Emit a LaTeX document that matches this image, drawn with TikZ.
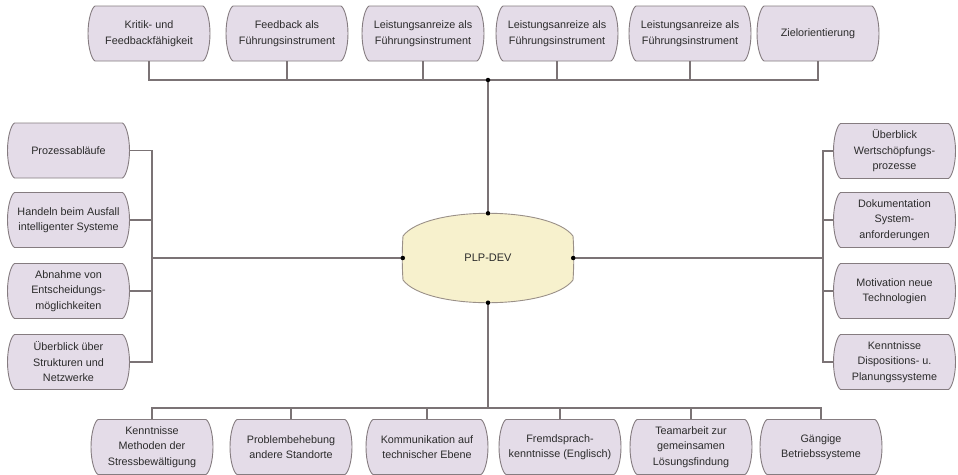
\documentclass[tikz,border=0pt]{standalone}
\usepackage{fontspec}
\setmainfont{Liberation Sans}
\definecolor{boxfill}{HTML}{E4DCE8}
\definecolor{boxline}{HTML}{857C80}
\definecolor{ellfill}{HTML}{F7F1CD}
\definecolor{ellline}{HTML}{9A9088}
\definecolor{conn}{HTML}{7B7375}
\definecolor{txt}{HTML}{2B2B2B}
\tikzset{
 lbl/.style={minimum width=122pt, minimum height=55pt, inner sep=0pt, align=center, font=\fontsize{10.8}{15.5}\selectfont, text=txt},
 shp/.style={fill=boxfill, draw=boxline, line width=0.9pt},
 wire/.style={draw=conn, line width=1.1pt},
 jdot/.style={circle, fill=black, inner sep=0pt, minimum size=4.5pt}
}
\newcommand\bx[4]{%
 \path[shp, shift={(#2,#3)}] (-54,-27.5) -- (54,-27.5) .. controls (57,-26) and (61,-15) .. (61,0) .. controls (61,15) and (57,26) .. (54,27.5) -- (-54,27.5) .. controls (-57,26) and (-61,15) .. (-61,0) .. controls (-61,-15) and (-57,-26) .. (-54,-27.5) -- cycle;
 \node[lbl] (#1) at (#2,#3) {#4};}
\begin{document}
\begin{tikzpicture}[x=1pt,y=-1pt]
\useasboundingbox (0,0) rectangle (958,474);
% top
\bx{t1}{149}{33.5}{Kritik- und\\Feedbackfähigkeit}
\bx{t2}{287}{33.5}{Feedback als\\Führungsinstrument}
\bx{t3}{423}{33.5}{Leistungsanreize als\\Führungsinstrument}
\bx{t4}{557}{33.5}{Leistungsanreize als\\Führungsinstrument}
\bx{t5}{690}{33.5}{Leistungsanreize als\\Führungsinstrument}
\bx{t6}{818}{33.5}{Zielorientierung}
% bottom
\bx{b1}{152}{447}{Kenntnisse\\Methoden der\\Stressbewältigung}
\bx{b2}{291}{447}{Problembehebung\\andere Standorte}
\bx{b3}{427}{447}{Kommunikation auf\\technischer Ebene}
\bx{b4}{560}{447}{Fremdsprach-\\kenntnisse (Englisch)}
\bx{b5}{691}{447}{Teamarbeit zur\\gemeinsamen\\Lösungsfindung}
\bx{b6}{821}{447}{Gängige\\Betriebssysteme}
% left
\bx{l1}{68.5}{150.5}{Prozessabläufe}
\bx{l2}{68.5}{220}{Handeln beim Ausfall\\intelligenter Systeme}
\bx{l3}{68.5}{291}{Abnahme von\\Entscheidungs-\\möglichkeiten}
\bx{l4}{68.5}{362}{Überblick über\\Strukturen und\\Netzwerke}
% right
\bx{r1}{894.5}{151}{Überblick\\Wertschöpfungs-\\prozesse}
\bx{r2}{894.5}{220}{Dokumentation\\System-\\anforderungen}
\bx{r3}{894.5}{291}{Motivation neue\\Technologien}
\bx{r4}{894.5}{362}{Kenntnisse\\Dispositions- u.\\Planungssysteme}
% center
\path[fill=ellfill, draw=ellline, line width=0.9pt, shift={(488,258)}]
 (-85,-22) .. controls (-62,-52.3) and (62,-52.3) .. (85,-22)
 .. controls (86,-8) and (86,8) .. (85,22)
 .. controls (62,52.3) and (-62,52.3) .. (-85,22)
 .. controls (-86,8) and (-86,-8) .. (-85,-22) -- cycle;
\node[minimum width=170pt, minimum height=89pt, inner sep=0pt, font=\fontsize{11}{13}\selectfont, text=txt] (c) at (488,258) {PLP-DEV};
% junctions
\coordinate (tj) at (488,80);
\coordinate (bj) at (488,408);
\coordinate (lj) at (152,258);
\coordinate (rj) at (823,258);
% connectors
\foreach \n in {t1,t2,t3,t4,t5,t6} \draw[wire] (\n.south) |- (tj);
\foreach \n in {b1,b2,b3,b4,b5,b6} \draw[wire] (\n.north) |- (bj);
\foreach \n in {l1,l2,l3,l4} \draw[wire] (\n.east) -| (lj);
\foreach \n in {r1,r2,r3,r4} \draw[wire] (\n.west) -| (rj);
\draw[wire] (tj) -- (c.north);
\draw[wire] (bj) -- (c.south);
\draw[wire] (lj) -- (c.west);
\draw[wire] (rj) -- (c.east);
% dots
\node[jdot] at (tj) {};
\node[jdot] at (c.north) {};
\node[jdot] at (c.south) {};
\node[jdot] at (c.west) {};
\node[jdot] at (c.east) {};
\end{tikzpicture}
\end{document}
